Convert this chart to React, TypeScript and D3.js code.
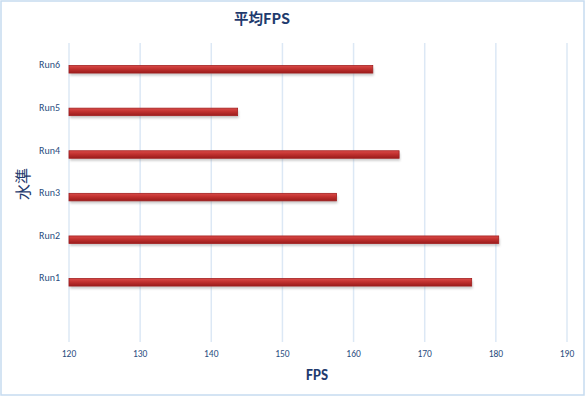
import React, { useEffect, useRef } from 'react';
import * as d3 from 'd3';

// chart data
const runs = ['Run1', 'Run2', 'Run3', 'Run4', 'Run5', 'Run6'];
const avgFps = [176.6, 180.4, 157.6, 166.4, 143.7, 162.7];
const xTicks = [120, 130, 140, 150, 160, 170, 180, 190];

const W = 586;
const H = 397;

const App: React.FC = () => {
  const svgRef = useRef<SVGSVGElement>(null);

  useEffect(() => {
    if (!svgRef.current) return;
    const svg = d3.select(svgRef.current);
    svg.selectAll('*').remove();

    const font = "Calibri, Carlito, 'Liberation Sans', 'Noto Sans', sans-serif";
    const cjk = "'Noto Sans CJK JP', 'Noto Sans CJK SC', sans-serif";
    const navy = '#1f3b6e';

    const plot = { left: 69, right: 567, top: 43, bottom: 342 };

    const x = d3.scaleLinear().domain([120, 190]).range([plot.left, plot.right]);
    // bars sit in the upper 6 of 7 equal slots; lowest slot is left empty
    const slot = 42.6;
    const bandTop = 48;
    const y = d3.scaleBand<string>()
      .domain(runs)
      .range([bandTop + 6 * slot, bandTop])
      .paddingInner(0)
      .paddingOuter(0);

    // outer frame
    svg.append('rect')
      .attr('x', 1).attr('y', 1)
      .attr('width', W - 3).attr('height', H - 3)
      .attr('fill', '#fff')
      .attr('stroke', '#c6dbf0')
      .attr('stroke-width', 1.5);

    const defs = svg.append('defs');
    const grad = defs.append('linearGradient')
      .attr('id', 'barGrad')
      .attr('x1', 0).attr('x2', 0).attr('y1', 0).attr('y2', 1);
    grad.append('stop').attr('offset', '0%').attr('stop-color', '#d94a48');
    grad.append('stop').attr('offset', '45%').attr('stop-color', '#c1312f');
    grad.append('stop').attr('offset', '100%').attr('stop-color', '#9a1c1c');

    const blur = defs.append('filter').attr('id', 'shadow')
      .attr('x', '-5%').attr('y', '-50%').attr('width', '110%').attr('height', '250%');
    blur.append('feGaussianBlur').attr('stdDeviation', 1.2);

    // vertical gridlines
    svg.append('g')
      .selectAll('line')
      .data(xTicks)
      .enter().append('line')
      .attr('x1', d => x(d)).attr('x2', d => x(d))
      .attr('y1', plot.top).attr('y2', plot.bottom)
      .attr('stroke', '#dce8f5')
      .attr('stroke-width', 1.5);

    // tick labels
    svg.append('g')
      .selectAll('text')
      .data(xTicks)
      .enter().append('text')
      .attr('x', d => x(d))
      .attr('y', 357)
      .attr('text-anchor', 'middle')
      .style('font-family', font)
      .style('font-size', '9.5px')
      .style('fill', '#2a4d80')
      .text(d => d);

    const barH = 7.5;
    const rows = svg.append('g')
      .selectAll('g')
      .data(runs.map((r, i) => ({ run: r, value: avgFps[i] })))
      .enter().append('g')
      .attr('transform', d => `translate(0, ${(y(d.run) as number) + y.bandwidth() / 2})`);

    rows.append('rect')
      .attr('x', x(120) + 1)
      .attr('y', -barH / 2 + 2.5)
      .attr('width', d => x(d.value) - x(120))
      .attr('height', barH)
      .attr('fill', '#8a8a8a')
      .attr('opacity', 0.45)
      .attr('filter', 'url(#shadow)');

    rows.append('rect')
      .attr('x', x(120))
      .attr('y', -barH / 2)
      .attr('width', d => x(d.value) - x(120))
      .attr('height', barH)
      .attr('fill', 'url(#barGrad)')
      .attr('stroke', '#a31f1f')
      .attr('stroke-width', 0.8);

    rows.append('text')
      .attr('x', 60)
      .attr('y', -1)
      .attr('text-anchor', 'end')
      .style('font-family', font)
      .style('font-size', '10px')
      .style('fill', '#2a4d80')
      .text(d => d.run);

    // title
    svg.append('text')
      .attr('x', 262)
      .attr('y', 24)
      .attr('text-anchor', 'middle')
      .style('font-family', cjk)
      .style('font-size', '14.5px')
      .style('font-weight', 'bold')
      .style('fill', navy)
      .text('平均FPS');

    // axis titles
    svg.append('text')
      .attr('x', 317)
      .attr('y', 380)
      .attr('text-anchor', 'middle')
      .style('font-family', font)
      .style('font-size', '15px')
      .style('font-weight', 'bold')
      .style('fill', navy)
      .text('FPS');

    svg.append('text')
      .attr('transform', 'translate(29, 184) rotate(-90)')
      .attr('text-anchor', 'middle')
      .style('font-family', cjk)
      .style('font-size', '16px')
      .style('fill', navy)
      .text('水準');
  }, []);

  return (
    <div style={{ position: 'absolute', left: 0, top: 0 }}>
      <svg ref={svgRef} width={W} height={H} style={{ display: 'block' }} />
    </div>
  );
};

export default App;
